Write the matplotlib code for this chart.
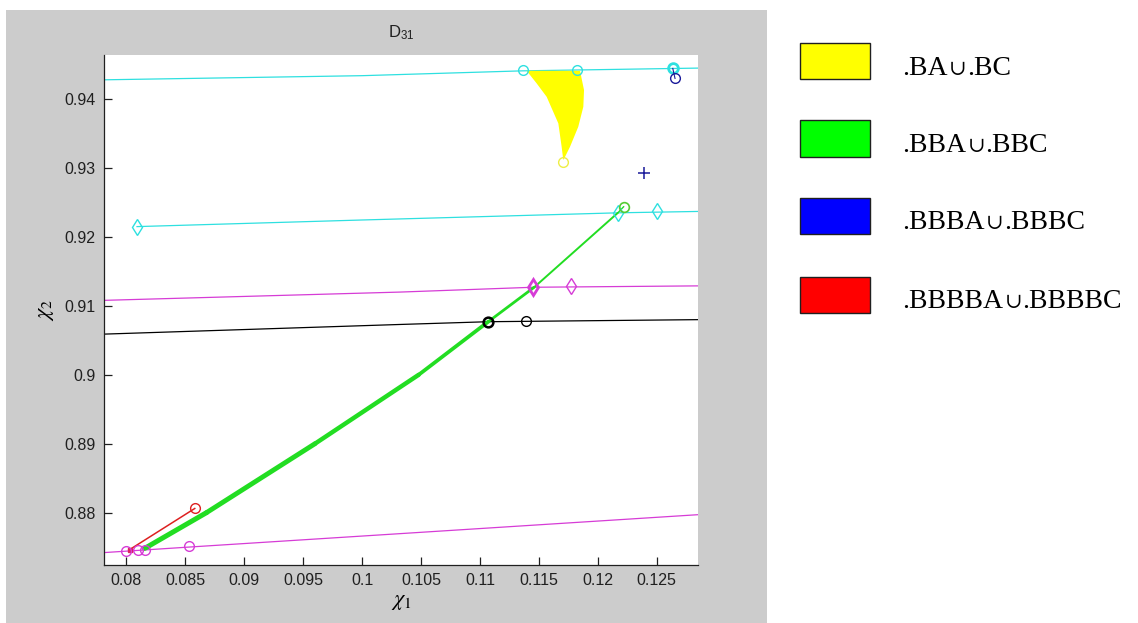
import matplotlib
matplotlib.use("Agg")
import matplotlib.pyplot as plt
from matplotlib.patches import Rectangle
from matplotlib.collections import LineCollection
import numpy as np

plt.rcParams['mathtext.fontset'] = 'custom'
plt.rcParams['mathtext.rm'] = 'Liberation Sans'
plt.rcParams['mathtext.it'] = 'Liberation Sans'

# ---- data ----
x_ticks = [0.08, 0.085, 0.09, 0.095, 0.1, 0.105, 0.11, 0.115, 0.12, 0.125]
x_tick_labels = ['0.08', '0.085', '0.09', '0.095', '0.1', '0.105', '0.11', '0.115', '0.12', '0.125']
y_ticks = [0.88, 0.89, 0.90, 0.91, 0.92, 0.93, 0.94]
y_tick_labels = ['0.88', '0.89', '0.9', '0.91', '0.92', '0.93', '0.94']
x_limits = [0.0781, 0.1285]
y_limits = [0.8724, 0.9464]

# boundary lines
cyan_top_x = [0.0781, 0.1000, 0.1136, 0.1285]
cyan_top_y = [0.9428, 0.9434, 0.9441, 0.9445]
cyan_mid_x = [0.0809, 0.1000, 0.1217, 0.1285]
cyan_mid_y = [0.92150, 0.92246, 0.92350, 0.92370]
magenta_up_x = [0.0781, 0.1032, 0.1145, 0.1285]
magenta_up_y = [0.9108, 0.9120, 0.9127, 0.9129]
black_x = [0.0781, 0.1032, 0.1107, 0.1285]
black_y = [0.9059, 0.9073, 0.9077, 0.9080]
magenta_low_x = [0.0781, 0.0853, 0.1285]
magenta_low_y = [0.8742, 0.8750, 0.8797]

# region .BA U .BC
yellow_x = [0.11396, 0.11481, 0.11566, 0.11665, 0.11693, 0.11707, 0.11722,
            0.11764, 0.11834, 0.11877, 0.11883, 0.11849]
yellow_y = [0.94411, 0.94228, 0.94033, 0.93647, 0.93308, 0.93115, 0.93163,
            0.93308, 0.93598, 0.93888, 0.94131, 0.94411]

# region .BBA U .BBC (thin sliver)
green_x = [0.08155, 0.0868, 0.0960, 0.1048, 0.1107, 0.1146, 0.1217, 0.1222]
green_y = [0.87481, 0.8800, 0.8900, 0.9000, 0.9077, 0.9127, 0.9235, 0.9244]
green_widths = [3.6, 3.5, 3.2, 2.7, 2.0, 1.4, 1.0]

# region .BBBBA U .BBBBC
red_x = [0.08028, 0.0858]
red_y = [0.87464, 0.8806]

# points
cyan_top_pts_x = [0.11362, 0.11821]
cyan_top_pts_y = [0.9442, 0.9442]
cyan_top_bold_x = [0.12636]
cyan_top_bold_y = [0.94446]
cyan_dia_x = [0.0809, 0.12174, 0.12505]
cyan_dia_y = [0.92150, 0.9235, 0.92379]
yellow_pt_x = [0.11707]
yellow_pt_y = [0.9309]
blue_circ_x = [0.12655]
blue_circ_y = [0.9430]
blue_plus_x = [0.12392]
blue_plus_y = [0.92922]
green_pt_x = [0.1222]
green_pt_y = [0.9244]
magenta_dia_bold_x = [0.11452]
magenta_dia_bold_y = [0.91272]
magenta_dia_x = [0.1177]
magenta_dia_y = [0.91283]
black_bold_x = [0.1107]
black_bold_y = [0.90770]
black_pt_x = [0.1139]
black_pt_y = [0.90782]
magenta_circ_x = [0.0800, 0.0810, 0.0816, 0.0853]
magenta_circ_y = [0.87440, 0.87452, 0.87460, 0.87520]
red_circ_x = [0.0858]
red_circ_y = [0.8806]

legend_left = ['.BA', '.BBA', '.BBBA', '.BBBBA']
legend_right = ['.BC', '.BBC', '.BBBC', '.BBBBC']
legend_colors = ['#ffff00', '#00ff00', '#0000ff', '#ff0000']

# ---- colours ----
CYAN = '#2ee0e0'
MAGENTA = '#d63cd6'
GREEN = '#22dd22'
NAVY = '#1a1a9a'

W, H = 1138, 623
fig = plt.figure(figsize=(W / 100, H / 100), dpi=100, facecolor='white')

# grey figure panel
fig.add_artist(Rectangle((6 / W, 0), (767 - 6) / W, (H - 10) / H,
                         transform=fig.transFigure, facecolor='#cccccc',
                         edgecolor='none', zorder=-10))

ax = fig.add_axes([104 / W, 58 / H, (698 - 104) / W, (565 - 55) / H])
ax.set_facecolor('white')
ax.set_zorder(1)

lw = 0.9
ax.plot(cyan_top_x, cyan_top_y, color=CYAN, lw=lw)
ax.plot(cyan_mid_x, cyan_mid_y, color=CYAN, lw=lw)
ax.plot(magenta_up_x, magenta_up_y, color=MAGENTA, lw=lw)
ax.plot(black_x, black_y, color='black', lw=lw)
ax.plot(magenta_low_x, magenta_low_y, color=MAGENTA, lw=lw)

ax.fill(yellow_x, yellow_y, color='#ffff00', lw=0, zorder=3)

pts = np.column_stack([green_x, green_y])
segs = np.stack([pts[:-1], pts[1:]], axis=1)
ax.add_collection(LineCollection(segs, linewidths=green_widths, colors=GREEN,
                                 capstyle='round', zorder=4))

ax.plot(red_x, red_y, color='#dd2020', lw=1.1, zorder=4)
ax.plot(red_x[:1], red_y[:1], 's', color='#dd2060', ms=2.5, zorder=5)

mk = dict(mfc='none', ls='none', zorder=6)
ax.plot(cyan_top_pts_x, cyan_top_pts_y, 'o', mec=CYAN, ms=7, mew=1, **mk)
ax.plot(cyan_top_bold_x, cyan_top_bold_y, 'o', mec=CYAN, ms=7, mew=2, **mk)
ax.plot(cyan_dia_x, cyan_dia_y, 'd', mec=CYAN, ms=8, mew=1, **mk)
ax.plot(yellow_pt_x, yellow_pt_y, 'o', mec='#eeee44', ms=7, mew=1, **mk)
ax.plot(blue_circ_x, blue_circ_y, 'o', mec=NAVY, ms=7, mew=1, **mk)
ax.plot([cyan_top_bold_x[0], blue_circ_x[0]], [cyan_top_bold_y[0], blue_circ_y[0]],
        color=NAVY, lw=0.8, zorder=6)
ax.plot(blue_plus_x, blue_plus_y, '+', mec=NAVY, ms=9, mew=1.1, ls='none', zorder=6)
ax.plot(green_pt_x, green_pt_y, 'o', mec='#55cc33', ms=7, mew=1.2, **mk)
ax.plot(magenta_dia_bold_x, magenta_dia_bold_y, 'd', mec=MAGENTA, ms=8, mew=2, **mk)
ax.plot(magenta_dia_x, magenta_dia_y, 'd', mec=MAGENTA, ms=8, mew=1, **mk)
ax.plot(black_bold_x, black_bold_y, 'o', mec='black', ms=7, mew=1.8, **mk)
ax.plot(black_pt_x, black_pt_y, 'o', mec='black', ms=7, mew=1, **mk)
ax.plot(magenta_circ_x, magenta_circ_y, 'o', mec=MAGENTA, ms=7, mew=1, **mk)
ax.plot(red_circ_x, red_circ_y, 'o', mec='#dd2020', ms=7, mew=1, **mk)

ax.set_xlim(x_limits)
ax.set_ylim(y_limits)
ax.set_xticks(x_ticks)
ax.set_xticklabels(x_tick_labels)
ax.set_yticks(y_ticks)
ax.set_yticklabels(y_tick_labels)
for s in ['top', 'right']:
    ax.spines[s].set_visible(False)
for s in ['left', 'bottom']:
    ax.spines[s].set_linewidth(0.9)
    ax.spines[s].set_color('#202020')
ax.tick_params(direction='in', length=5.5, width=0.9, color='#202020',
               labelsize=11.5, labelcolor='#202020', pad=6)
for lab in ax.get_xticklabels() + ax.get_yticklabels():
    lab.set_fontfamily('Liberation Sans')

ax.set_title('D$_{31}$', fontsize=12, fontfamily='Liberation Sans',
             color='#202020', pad=13)
ax.set_xlabel(r'$\chi_1$', fontsize=16, labelpad=3, math_fontfamily='stix')
ax.set_ylabel(r'$\chi_2$', fontsize=16, labelpad=6, math_fontfamily='stix')

# legend panel: coloured keys with serif labels, a small union sign in between
rect_tops = [42.7, 120, 197.7, 276.7]
baselines = [75, 151.7, 229.3, 308.3]
serif = ['Liberation Serif', 'DejaVu Serif']
renderer = fig.canvas.get_renderer()
inv = fig.transFigure.inverted()
for top, base, left, right, col in zip(rect_tops, baselines, legend_left,
                                       legend_right, legend_colors):
    fig.add_artist(Rectangle((800 / W, (H - top - 36.5) / H), 70 / W, 36.5 / H,
                             transform=fig.transFigure, facecolor=col,
                             edgecolor='#202020', lw=1.0))
    yb = (H - base) / H
    t1 = fig.text(902 / W, yb, left, fontsize=20, family=serif,
                  va='baseline', ha='left')
    x1 = inv.transform((t1.get_window_extent(renderer).x1, 0))[0]
    t2 = fig.text(x1 + 1.5 / W, yb, '\u222a', fontsize=15, family=['DejaVu Serif'],
                  va='baseline', ha='left', fontweight='light')
    x2 = inv.transform((t2.get_window_extent(renderer).x1, 0))[0]
    fig.text(x2 + 0.5 / W, yb, right, fontsize=20, family=serif,
             va='baseline', ha='left')

fig.savefig('out.png', dpi=100, facecolor='white')
